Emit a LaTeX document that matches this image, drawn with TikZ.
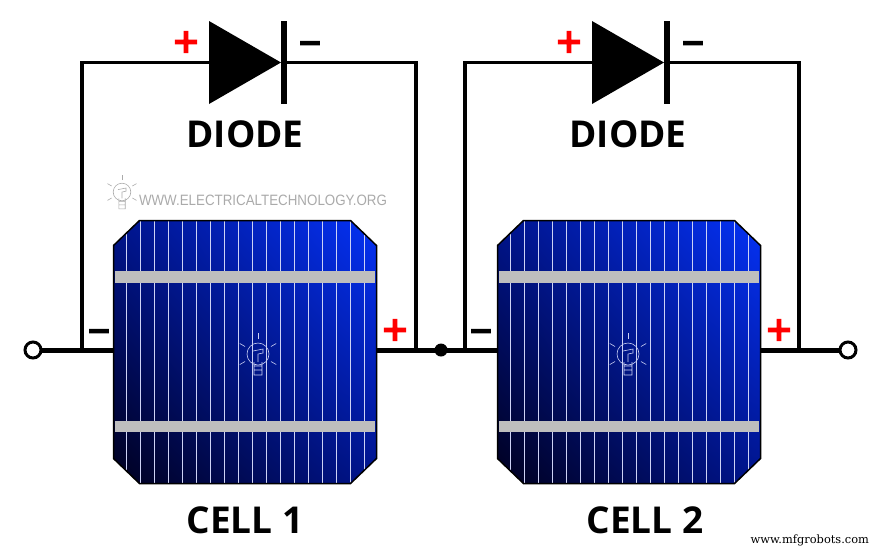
\documentclass[tikz,border=0pt]{standalone}
\usepackage{fontspec}
\setmainfont{Open Sans}
\newfontfamily\webfont{Liberation Sans}
\newfontfamily\markfont{DejaVu Serif}
\newfontfamily\signfont[FakeBold=3]{DejaVu Sans Bold}
\usetikzlibrary{positioning,calc,shapes.geometric,shadings}
\definecolor{cellgrid}{RGB}{205,210,245}
\definecolor{cellbar}{RGB}{190,190,190}
\definecolor{celldark}{RGB}{0,0,30}
\definecolor{cellmid}{RGB}{0,20,140}
\definecolor{celllight}{RGB}{5,50,245}
\definecolor{webgrey}{RGB}{170,170,170}
\tikzset{
  every node/.style={inner sep=0pt, outer sep=0pt},
  mainwire/.style={draw=black, line width=5pt},
  bypass/.style={draw=black, line width=3.2pt, line join=miter},
  terminal/.style={circle, draw=black, fill=white, line width=3pt, minimum size=16pt},
  junction/.style={circle, fill=black, minimum size=13pt},
  plussign/.style={text=red, font=\signfont\fontsize{34}{34}\selectfont},
  minussign/.style={text=black, font=\signfont\fontsize{30}{30}\selectfont},
  title/.style={font=\bfseries\fontsize{37}{37}\selectfont},
  diode/.style={isosceles triangle, isosceles triangle apex angle=60,
    isosceles triangle stretches, fill=black, minimum width=83pt, minimum height=72pt, anchor=apex},
  cathode/.style={rectangle, fill=black, minimum width=6pt, minimum height=83pt, anchor=west},
  cellframe/.style={rectangle, minimum width=263pt, minimum height=263pt},
  cellface/.style={draw=black, line width=1.5pt, line join=miter,
    lower left=celldark, upper right=celllight, upper left=cellmid, lower right=cellmid,
    path picture={
      \foreach \k in {0,...,17}
        \draw[cellgrid, line width=1.8pt] ($(path picture bounding box.north west)+(13+14*\k,0)$) -- ++(0,270);
      \fill[cellbar] ($(path picture bounding box.north west)+(1.5,50.5)$) rectangle ++(260,12);
      \fill[cellbar] ($(path picture bounding box.north west)+(1.5,200.5)$) rectangle ++(260,11);
    }},
  bulb/.pic={
    \draw[pic actions, line width=0.6pt] (0,0) circle[radius=11];
    \foreach \a in {-90,-30,-150,30,150}
      \draw[pic actions, line width=0.6pt] (\a:15) -- (\a:21);
    \draw[pic actions, line width=0.6pt] (-4,8) -- (-4,21) -- (4,21) -- (4,8)
      (-4,12) -- (4,12) (-4,16) -- (4,16) (-5,-3) -- (5,-5) -- (5,-1) -- (0,0) -- (0,8);
  }
}
\newcommand\solarcell[1]{
  \path[cellface] ($(#1.north west)+(26,0)$) -- ($(#1.north east)+(-26,0)$)
    -- ($(#1.north east)+(0,25)$) -- ($(#1.south east)+(0,-25)$)
    -- ($(#1.south east)+(-26,0)$) -- ($(#1.south west)+(26,0)$)
    -- ($(#1.south west)+(0,-25)$) -- ($(#1.north west)+(0,25)$) -- cycle;
}
\begin{document}
\begin{tikzpicture}[x=1pt, y=-1pt]
  \useasboundingbox (0,0) rectangle (880,550);

  \node[cellframe] (cellA) at (245,352) {};
  \node[cellframe] (cellB) at (629,352) {};
  \solarcell{cellA}
  \solarcell{cellB}

  % wires along the string
  \coordinate (endA) at (33,350);
  \coordinate (endB) at (848,350);
  \draw[mainwire] (endA) -- (endA -| cellA.west);
  \draw[mainwire] (endA -| cellA.east) -- (endB -| cellB.west);
  \draw[mainwire] (endB -| cellB.east) -- (endB);
  \node[terminal] (termA) at (endA) {};
  \node[terminal] (termB) at (endB) {};
  \node[junction] (mid) at (441,350) {};

  % bypass diodes
  \node[diode] (diodeA) at (281,62.5) {};
  \node[cathode] (barA) at (281,62.5) {};
  \node[diode] (diodeB) at (664,62.5) {};
  \node[cathode] (barB) at (664,62.5) {};
  \coordinate (tapA) at (82,350);
  \coordinate (tapB) at (416,350);
  \coordinate (tapC) at (465,350);
  \coordinate (tapD) at (799,350);
  \draw[bypass] (tapA) |- (diodeA.lower side);
  \draw[bypass] (barA.east) -| (tapB);
  \draw[bypass] (tapC) |- (diodeB.lower side);
  \draw[bypass] (barB.east) -| (tapD);

  \node[plussign] (plusA) at (186,42) {+};
  \node[minussign] (minusA) at (310,47) {−};
  \node[plussign] (plusB) at (569,42) {+};
  \node[minussign] (minusB) at (693,47) {−};
  \node[minussign] (minusC) at (99,335) {−};
  \node[plussign] (plusC) at (395,330) {+};
  \node[minussign] (minusD) at (481,335) {−};
  \node[plussign] (plusD) at (779,330) {+};

  \node[title] (labelA) at (245,134) {DIODE};
  \node[title] (labelB) at (628,134) {DIODE};
  \node[title] (labelC) at (245,520) {CELL 1};
  \node[title] (labelD) at (645,520) {CELL 2};

  \pic[draw=webgrey, scale=.8] at (122,192) {bulb};
  \pic[draw=cellgrid] at (258,354) {bulb};
  \pic[draw=cellgrid] at (628,354) {bulb};
  \node[anchor=west, xscale=.89, text=webgrey, font=\webfont\fontsize{15}{15}\selectfont] (web) at (139,200) {WWW.ELECTRICALTECHNOLOGY.ORG};
  \node[anchor=east, font=\markfont\fontsize{11.4}{11.4}\selectfont] (mark) at (869,540) {www.mfgrobots.com};
\end{tikzpicture}
\end{document}
